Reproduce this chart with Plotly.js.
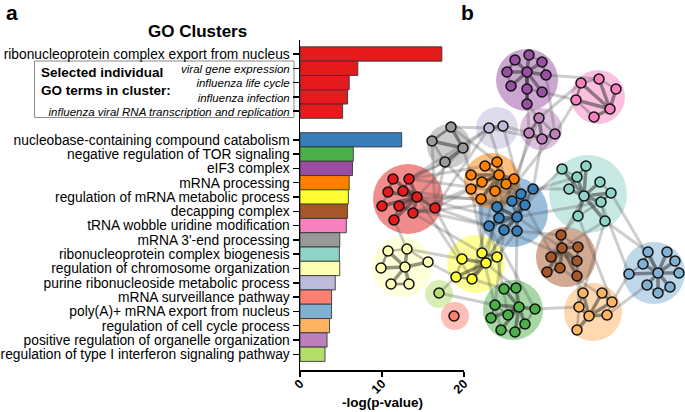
<!DOCTYPE html>
<html><head><meta charset="utf-8">
<script src="https://cdn.plot.ly/plotly-3.0.1.min.js"></script>
<style>html,body{margin:0;padding:0;background:#fff}#chart{width:685px;height:412px}</style>
</head><body><div id="chart"></div>
<script>
const W = 685, H = 412;
const FONT = "Liberation Sans, Arial, sans-serif";

// ---- Panel a data ----
const selectedTerms = ["ribonucleoprotein complex export from nucleus", "viral gene expression", "influenza life cycle", "influenza infection", "influenza viral RNA transcription and replication"];
const selectedValues = [17.3, 7.05, 6.0, 5.8, 5.2];
const clusterTerms = ["nucleobase-containing compound catabolism", "negative regulation of TOR signaling", "eIF3 complex", "mRNA processing", "regulation of mRNA metabolic process", "decapping complex", "tRNA wobble uridine modification", "mRNA 3'-end processing", "ribonucleoprotein complex biogenesis", "regulation of chromosome organization", "purine ribonucleoside metabolic process", "mRNA surveillance pathway", "poly(A)+ mRNA export from nucleus", "regulation of cell cycle process", "positive regulation of organelle organization", "regulation of type I interferon signaling pathway"];
const clusterValues = [12.4, 6.5, 6.4, 6.0, 5.9, 5.8, 5.65, 4.85, 4.8, 4.85, 4.3, 3.85, 3.85, 3.6, 3.3, 3.05];
const clusterKeys = ["blue", "green", "purple", "orange", "yellow", "brown", "pink", "gray", "teal", "lyellow", "lavender", "salmon", "lblue", "lorange", "lpurple", "lgreen"];
const clusterColors = ["#377eb8", "#4daf4a", "#984ea3", "#ff7f00", "#ffff33", "#a65628", "#f781bf", "#999999", "#8dd3c7", "#ffffb3", "#bebada", "#fb8072", "#80b1d3", "#fdb462", "#bc80bd", "#b3de69"];
const redColor = "#e41a1c";
const xTickValues = [0, 10, 20];

// ---- Panel b data (network, in panel pixel units) ----
const netKeys = ["red", "blue", "green", "purple", "orange", "yellow", "brown", "pink", "gray", "teal", "lyellow", "lavender", "salmon", "lblue", "lorange", "lpurple", "lgreen"];
const circleX = [408, 513, 513, 527, 492, 476, 566, 598, 449, 588, 402, 497, 455, 654, 593, 541, 439];
const circleY = [199, 212, 310, 80, 181, 264, 257, 97, 146, 194, 267, 128, 316, 273, 312, 129, 294];
const circleR = [35, 35, 30, 31, 28, 29, 30, 27, 22, 39, 30, 21, 14, 31, 29, 21, 14];
const nodesRed = [[393,179],[409,179],[388,192],[403,191],[417,197],[382,206],[399,206],[435,208],[413,213],[394,220]];
const nodesBlue = [[521,194],[533,189],[512,201],[525,205],[497,207],[517,217],[499,218],[489,226],[504,230],[517,231]];
const nodesGreen = [[504,289],[516,288],[495,305],[519,307],[535,309],[491,318],[508,315],[525,324],[501,330],[515,332]];
const nodesPurple = [[515,60],[529,55],[542,62],[507,72],[527,72],[546,75],[511,86],[527,89],[542,92],[527,104]];
const nodesOrange = [[485,166],[497,162],[471,175],[499,175],[482,182],[514,179],[506,184],[471,189],[495,191],[481,199]];
const nodesYellow = [[462,259],[482,253],[497,257],[486,263],[456,277],[472,279]];
const nodesBrown = [[561,235],[562,248],[578,247],[551,257],[577,261],[560,268],[547,272],[577,276]];
const nodesPink = [[581,83],[599,79],[616,89],[576,100],[610,109],[594,117]];
const nodesGray = [[451,127],[432,141],[463,148],[445,162]];
const nodesTeal = [[562,169],[586,166],[577,177],[600,182],[569,189],[611,193],[584,196],[601,202],[578,216],[605,221]];
const nodesLYellow = [[388,251],[407,249],[381,268],[405,267],[428,262],[391,284],[409,284]];
const nodesLavender = [[489,128],[503,126]];
const nodesSalmon = [[454,316]];
const nodesLBlue = [[648,252],[667,252],[643,264],[675,261],[658,273],[679,273],[629,274],[647,285],[670,287],[658,293]];
const nodesLOrange = [[583,293],[602,293],[612,302],[579,307],[589,316],[607,315],[577,330]];
const nodesLPurple = [[539,118],[529,133],[555,134],[542,139]];
const nodesLGreen = [[439,293]];
const interLinks = [["red","gray",3],["red","orange",4],["red","blue",6],["red","lavender",2],["gray","lavender",2],["gray","orange",3],["lavender","lpurple",2],["lavender","blue",2],["lpurple","purple",3],["lpurple","pink",2],["purple","pink",2],["lpurple","blue",4],["orange","blue",5],["blue","yellow",6],["blue","teal",4],["blue","brown",4],["teal","brown",3],["teal","lblue",3],["teal","lorange",2],["brown","lorange",3],["lblue","lorange",2],["yellow","green",4],["yellow","lyellow",2],["yellow","lgreen",1],["lgreen","green",1],["green","lorange",1],["red","yellow",3],["orange","yellow",3],["blue","green",3],["gray","red",2],["lyellow","red",1]];

// ---- helpers ----
const px = x => x / W;
const py = y => 1 - y / H;

const netNodes = [nodesRed, nodesBlue, nodesGreen, nodesPurple, nodesOrange, nodesYellow, nodesBrown, nodesPink, nodesGray, nodesTeal, nodesLYellow, nodesLavender, nodesSalmon, nodesLBlue, nodesLOrange, nodesLPurple, nodesLGreen];
const colorOf = {red: redColor};
clusterKeys.forEach((k, i) => colorOf[k] = clusterColors[i]);
const idxOf = {};
netKeys.forEach((k, i) => idxOf[k] = i);

const traces = [];

// Bars
const rows = [], labels = [], vals = [], cols = [];
selectedTerms.forEach((t, i) => {
  rows.push(i);
  labels.push(i === 0 ? t : '<i><span style="font-size:11.5px">' + t + '</span></i>');
  vals.push(selectedValues[i]); cols.push(redColor);
});
clusterTerms.forEach((t, i) => {
  rows.push(selectedTerms.length + 1 + i);
  labels.push(t); vals.push(clusterValues[i]); cols.push(clusterColors[i]);
});
traces.push({
  type: 'bar', orientation: 'h', x: vals, y: rows, width: 1,
  marker: {color: cols, line: {color: 'rgba(50,50,50,0.85)', width: 1}},
  hoverinfo: 'skip', xaxis: 'x', yaxis: 'y'
});

// Network: cluster circles
traces.push({
  type: 'scatter', mode: 'markers', x: circleX, y: circleY,
  marker: {size: circleR.map(r => 2 * r), color: netKeys.map(k => colorOf[k]), opacity: 0.5, line: {width: 0}},
  hoverinfo: 'skip', xaxis: 'x2', yaxis: 'y2'
});

function dist(a, b) { return Math.hypot(a[0] - b[0], a[1] - b[1]); }
function seg(a, b, color, w) {
  traces.push({type: 'scatter', mode: 'lines', x: [a[0], b[0]], y: [a[1], b[1]],
    line: {color: color, width: w}, hoverinfo: 'skip', xaxis: 'x2', yaxis: 'y2'});
}

// inter-cluster edges
interLinks.forEach(([ka, kb, n]) => {
  const ia = idxOf[ka], ib = idxOf[kb];
  const A = netNodes[ia], B = netNodes[ib];
  const cA = [circleX[ia], circleY[ia]], cB = [circleX[ib], circleY[ib]];
  const sA = A.slice().sort((p, q) => dist(p, cB) - dist(q, cB));
  const sB = B.slice().sort((p, q) => dist(p, cA) - dist(q, cA));
  for (let k = 0; k < n; k++) {
    seg(sA[k % sA.length], sB[(k * 2) % sB.length], 'rgba(80,80,80,0.28)', 3);
  }
});

// intra-cluster edges
netNodes.forEach((nodes, i) => {
  if (nodes.length < 2) return;
  const c = [circleX[i], circleY[i]];
  let hub = nodes[0];
  nodes.forEach(p => { if (dist(p, c) < dist(hub, c)) hub = p; });
  nodes.forEach(p => {
    if (p !== hub) seg(p, hub, 'rgba(40,40,40,0.5)', 3.5);
    let nn = null;
    nodes.forEach(q => { if (q !== p && q !== hub && (!nn || dist(p, q) < dist(p, nn))) nn = q; });
    if (nn && p !== hub) seg(p, nn, 'rgba(50,50,50,0.3)', 2.5);
  });
});

// nodes
netNodes.forEach((nodes, i) => {
  traces.push({
    type: 'scatter', mode: 'markers', x: nodes.map(p => p[0]), y: nodes.map(p => p[1]),
    marker: {size: 10, color: colorOf[netKeys[i]], line: {color: '#111', width: 1.5}},
    hoverinfo: 'skip', xaxis: 'x2', yaxis: 'y2'
  });
});

const ann = (text, x, y, size, opts) => Object.assign({
  text: text, x: px(x), y: py(y), xref: 'paper', yref: 'paper', showarrow: false,
  xanchor: 'center', yanchor: 'middle',
  font: {family: FONT, size: size, color: '#000'}
}, opts || {});

const layout = {
  width: W, height: H, margin: {l: 0, r: 0, t: 0, b: 0},
  paper_bgcolor: '#fff', plot_bgcolor: 'rgba(0,0,0,0)', showlegend: false,
  font: {family: FONT, color: '#000'},
  bargap: 0,
  xaxis: {
    domain: [px(300), px(464)], range: [0, 20], anchor: 'y',
    tickvals: xTickValues, ticktext: xTickValues.map(v => '<b>' + v + '</b>'),
    tickangle: -45, tickfont: {size: 12.5, family: FONT},
    ticks: 'outside', ticklen: 5, tickwidth: 1.5, tickcolor: '#000', ticklabelstandoff: -5,
    showline: true, linecolor: '#000', linewidth: 1.5, showgrid: false, zeroline: false,
    fixedrange: true
  },
  yaxis: {
    domain: [py(370), py(40)], range: [22.1, -0.98], anchor: 'x',
    tickvals: rows, ticktext: labels, tickfont: {size: 13.8, family: FONT},
    ticks: 'outside', ticklen: 6, tickwidth: 1.5, tickcolor: '#000',
    showline: true, linecolor: '#000', linewidth: 1.5, showgrid: false, zeroline: false,
    fixedrange: true
  },
  xaxis2: {domain: [px(360), 1], range: [360, 685], anchor: 'y2', visible: false, fixedrange: true},
  yaxis2: {domain: [0, 1], range: [412, 0], anchor: 'x2', visible: false, fixedrange: true},
  shapes: [{
    type: 'rect', xref: 'paper', yref: 'paper', x0: px(34.5), x1: px(294), y0: py(61), y1: py(117.5),
    line: {color: '#8a8a8a', width: 1}, fillcolor: 'rgba(0,0,0,0)', layer: 'below'
  }],
  annotations: [
    ann('<b>a</b>', 12, 13, 21),
    ann('<b>b</b>', 467, 13, 21),
    ann('<b>GO Clusters</b>', 197, 32, 17),
    ann('<b>Selected individual<br>GO terms in cluster:</b>', 39, 81, 13.5, {xanchor: 'left', align: 'left'}),
    ann('<b>-log(p-value)</b>', 382, 402, 13.5)
  ]
};

Plotly.newPlot('chart', traces, layout, {displayModeBar: false, staticPlot: true});
</script></body></html>
